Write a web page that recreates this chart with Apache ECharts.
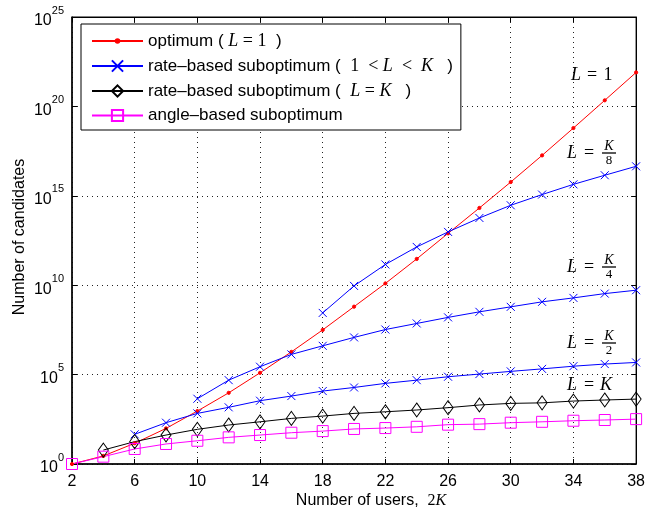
<!DOCTYPE html>
<html>
<head>
<meta charset="utf-8">
<script src="https://cdn.jsdelivr.net/npm/echarts@6/dist/echarts.min.js"></script>
<style>
  html, body { margin: 0; padding: 0; background: #fff; }
  #chart { width: 648px; height: 513px; }
</style>
</head>
<body>
<div id="chart"></div>
<script>
// x values: number of users 2K
const users = [2, 4, 6, 8, 10, 12, 14, 16, 18, 20, 22, 24, 26, 28, 30, 32, 34, 36, 38];
const xTicks = [2, 6, 10, 14, 18, 22, 26, 30, 34, 38];
const yTickExps = [0, 5, 10, 15, 20, 25];

// values, as log10 of the number of candidates
const optimumExp = [0, 0.45, 1.16, 1.99, 2.96, 3.98, 5.1, 6.27, 7.5, 8.8, 10.1, 11.47, 12.9, 14.32, 15.77, 17.26, 18.79, 20.34, 21.9];
const rateK8Exp  = [8.45, 9.96, 11.16, 12.14, 12.98, 13.76, 14.47, 15.07, 15.64, 16.15, 16.65];                                   // from 2K = 18
const rateK4Exp  = [3.65, 4.69, 5.44, 6.13, 6.61, 7.08, 7.52, 7.86, 8.2, 8.51, 8.79, 9.07, 9.29, 9.53, 9.72];                      // from 2K = 10
const rateK2Exp  = [1.66, 2.31, 2.83, 3.17, 3.54, 3.8, 4.08, 4.28, 4.51, 4.69, 4.88, 5.03, 5.18, 5.32, 5.47, 5.59, 5.68];          // from 2K = 6
const rateKExp   = [0.78, 1.25, 1.62, 1.94, 2.18, 2.36, 2.55, 2.68, 2.83, 2.92, 3.02, 3.15, 3.30, 3.39, 3.42, 3.52, 3.58, 3.63];   // from 2K = 4
const angleExp   = [0, 0.41, 0.84, 1.12, 1.3, 1.49, 1.62, 1.75, 1.84, 1.96, 2.01, 2.08, 2.2, 2.23, 2.31, 2.36, 2.42, 2.46, 2.51];

const SANS  = "'Liberation Sans', Arial, sans-serif";
const SERIF = "'Liberation Serif', 'DejaVu Serif', serif";
const NONE  = 'rgba(0,0,0,0)';

function points(startX, exps) {
  const start = users.indexOf(startX);
  return exps.map((e, i) => [users[start + i], Math.pow(10, e)]);
}

function lineSeries(name, data, color, symbol, size, hollow) {
  return {
    name,
    type: 'line',
    data,
    symbol,
    symbolSize: size,
    showAllSymbol: true,
    lineStyle: { color, width: 1 },
    itemStyle: hollow
      ? { color: NONE, borderColor: color, borderWidth: 1 }
      : { color, borderColor: color, borderWidth: 1 },
    emphasis: { disabled: true },
    z: 3,
  };
}

// small dot inside a 10x10 box, so the legend keeps it small too
const dotPath   = 'path://M0,0M10,10M5,3.4A1.6,1.6,0,1,1,5,6.6A1.6,1.6,0,1,1,5,3.4Z';
const crossPath = 'path://M0,0L10,10M10,0L0,10';

const mathRich = {
  t: { fontFamily: SANS, fontSize: 17, color: '#000' },
  m: { fontFamily: SERIF, fontStyle: 'italic', fontSize: 18, color: '#000' },
  n: { fontFamily: SERIF, fontSize: 18, color: '#000' },
};

const legendText = {
  optimum: '{t|optimum ( }{m|L}{n| = 1}{t|  )}',
  rate: '{t|rate\u2013based suboptimum (  }{n|1  < }{m|L}{n|  <  }{m|K}{t|   )}',
  rateK: '{t|rate\u2013based suboptimum (  }{m|L}{n| = }{m|K}{t|   )}',
  angle: '{t|angle\u2013based suboptimum}',
};

function txt(text, x, y, font) {
  return { type: 'text', z: 10, style: { text, x, y, font, fill: '#000', align: 'center', verticalAlign: 'middle' } };
}

const MI = 'italic 18px ' + SERIF;
const MN = '18px ' + SERIF;

// "L = K/n" labels at the right of the plot
function fracLabel(yBar, den) {
  return [
    txt('L', 572, yBar, MI),
    txt('=', 589, yBar, MN),
    { type: 'line', z: 10, shape: { x1: 602, y1: yBar, x2: 616, y2: yBar }, style: { stroke: '#000', lineWidth: 1.3 } },
    txt('K', 609, yBar - 7, 'italic 14px ' + SERIF),
    txt(String(den), 609, yBar + 8, '13px ' + SERIF),
  ];
}

const chart = echarts.init(document.getElementById('chart'));

const gridLine = { show: true, lineStyle: { color: '#222', type: [1, 4], width: 1 } };

chart.setOption({
  animation: false,
  backgroundColor: '#fff',
  grid: { left: 72, right: 8, top: 17, bottom: 49, show: true, borderColor: '#000', borderWidth: 1 },
  legend: {
    orient: 'vertical',
    left: 81,
    top: 24,
    padding: [8, 8, 6, 10],
    itemWidth: 51,
    itemHeight: 14,
    itemGap: 7,
    backgroundColor: '#fff',
    borderColor: '#000',
    borderWidth: 1,
    borderRadius: 0,
    data: ['optimum', 'rate', 'rateK', 'angle'],
    formatter: (name) => legendText[name],
    textStyle: { rich: mathRich },
  },
  xAxis: [
    {
      type: 'value',
      min: 2,
      max: 38,
      interval: 4,
      axisLine: { lineStyle: { color: '#000', width: 1.5 } },
      axisTick: { inside: true, length: 5, lineStyle: { color: '#000' } },
      axisLabel: { color: '#000', fontFamily: SANS, fontSize: 16, margin: 10,
        formatter: (v) => (xTicks.indexOf(v) >= 0 ? String(v) : '') },
      splitLine: gridLine,
    },
    {
      type: 'value',
      position: 'top',
      min: 2,
      max: 38,
      interval: 4,
      axisLine: { lineStyle: { color: '#000', width: 1 } },
      axisTick: { inside: true, length: 5, lineStyle: { color: '#000' } },
      axisLabel: { show: false },
      splitLine: { show: false },
    },
  ],
  yAxis: [
    {
      type: 'log',
      logBase: 10,
      min: 1,
      max: 1e25,
      interval: 5,
      axisLine: { lineStyle: { color: '#000', width: 1.5 } },
      axisTick: { inside: true, length: 5, lineStyle: { color: '#000' } },
      axisLabel: {
        color: '#000',
        margin: 8,
        formatter: (v) => {
          const n = Math.round(Math.log10(v));
          return yTickExps.indexOf(n) >= 0 ? '{b|10}{s|' + n + '}' : '';
        },
        rich: {
          b: { fontFamily: SANS, fontSize: 16, color: '#000', verticalAlign: 'bottom', lineHeight: 24 },
          s: { fontFamily: SANS, fontSize: 11, color: '#000', verticalAlign: 'top', lineHeight: 24 },
        },
      },
      splitLine: gridLine,
    },
    {
      type: 'log',
      logBase: 10,
      position: 'right',
      min: 1,
      max: 1e25,
      interval: 5,
      axisLine: { lineStyle: { color: '#000', width: 1 } },
      axisTick: { inside: true, length: 5, lineStyle: { color: '#000' } },
      axisLabel: { show: false },
      splitLine: { show: false },
    },
  ],
  series: [
    lineSeries('optimum', points(2, optimumExp), '#ff0000', dotPath, 10, false),
    lineSeries('rate', points(18, rateK8Exp), '#0000ff', crossPath, 8, false),
    lineSeries('rate', points(10, rateK4Exp), '#0000ff', crossPath, 8, false),
    lineSeries('rate', points(6, rateK2Exp), '#0000ff', crossPath, 8, false),
    lineSeries('rateK', points(4, rateKExp), '#000000', 'diamond', [10, 14], true),
    lineSeries('angle', points(2, angleExp), '#ff00ff', 'rect', 11, true),
  ],
  graphic: [
    txt('L', 576, 75, MI),
    txt('=', 592, 75, MN),
    txt('1', 608, 75, MN),
    ...fracLabel(153, 8),
    ...fracLabel(267, 4),
    ...fracLabel(343, 2),
    txt('L', 572, 385, MI),
    txt('=', 589, 385, MN),
    txt('K', 606, 385, MI),
    { type: 'text', z: 10, style: { text: '{t|Number of users,  }{n|2}{m|K}', rich: {
        t: { fontFamily: SANS, fontSize: 16, color: '#000' },
        n: { fontFamily: SERIF, fontSize: 16, color: '#000' },
        m: { fontFamily: SERIF, fontStyle: 'italic', fontSize: 16, color: '#000' },
      }, x: 371, y: 501, align: 'center', verticalAlign: 'middle' } },
    { type: 'text', z: 10, rotation: Math.PI / 2, x: 20, y: 237,
      style: { text: 'Number of candidates', font: '16px ' + SANS, fill: '#000', align: 'center', verticalAlign: 'middle' } },
  ],
});
</script>
</body>
</html>
